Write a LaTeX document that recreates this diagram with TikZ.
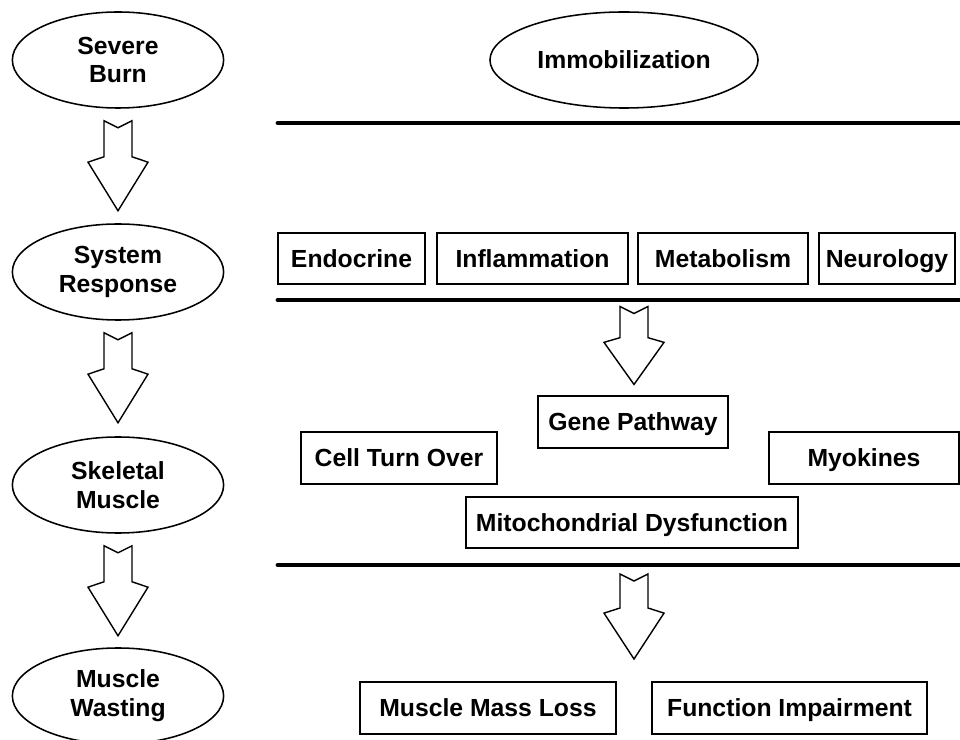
\documentclass[tikz,border=0pt]{standalone}
\usepackage{fontspec}
\setmainfont{Liberation Sans}
\usetikzlibrary{calc}
\usetikzlibrary{shapes.geometric}

\tikzset{
  every node/.style={font=\bfseries\fontsize{17.6}{20.5}\selectfont},
  stage/.style={ellipse, draw, line width=1.1pt, minimum width=5.28cm,
    minimum height=2.4cm, align=center, inner sep=0pt},
  factor/.style={rectangle, draw, line width=1.3pt, minimum width=#1*0.025cm,
    minimum height=1.28cm, inner sep=0pt, text height=13pt, text depth=0.4pt},
  divider/.style={line width=3.4pt, line cap=round},
  pics/hollow/.style={code={
    \draw[line width=1pt, fill=white] (-14,0) -- (0,7) -- (14,0) -- (14,0.4*#1)
      -- (30,0.46*#1) -- (0,#1) -- (-30,0.46*#1) -- (-14,0.4*#1) -- cycle;}}
}

\begin{document}
\begin{tikzpicture}[x=0.025cm, y=-0.025cm]
    \useasboundingbox (0,0) rectangle (960,740);
    % left column
    \node[stage] (burn) at (118,60) {Severe\\Burn};
    \node[stage] (resp) at (118,272) {System\\Response};
    \node[stage] (skel) at (118,485) {Skeletal\\Muscle};
    \node[stage] (wast) at (118,696) {Muscle\\Wasting};
    \path ($(burn.south)+(0,12)$) pic {hollow=90};
    \path ($(resp.south)+(0,12)$) pic {hollow=90};
    \path ($(skel.south)+(0,12)$) pic {hollow=90};

    % right side
    \node[stage, minimum width=6.7cm] (immo) at (624,60) {Immobilization};
    \draw[divider] (278,123) -- (960,123);

    \node[factor=147] (endo) at (351.5,258.5) {Endocrine};
    \node[factor=191] (infl) at (532.5,258.5) {Inflammation};
    \node[factor=170] (meta) at (723,258.5) {Metabolism};
    \node[factor=136] (neur) at (887,258.5) {Neurology};
    \draw[divider] (278,300) -- (960,300);

    \node[factor=190] (gene) at (633,422) {Gene Pathway};
    \node[factor=196] (cell) at (399,458) {Cell Turn Over};
    \node[factor=190] (myok) at (864,458) {Myokines};
    \node[factor=332] (mito) at (632,522.5) {Mitochondrial Dysfunction};
    \path ($(gene.north)+(1,-89)$) pic {hollow=78};
    \draw[divider] (278,565) -- (960,565);

    \node[factor=256] (mass) at (488,708) {Muscle Mass Loss};
    \node[factor=275] (func) at (789.5,708) {Function Impairment};
    \path ($(mito.south)+(2,25)$) pic {hollow=85};
\end{tikzpicture}
\end{document}
